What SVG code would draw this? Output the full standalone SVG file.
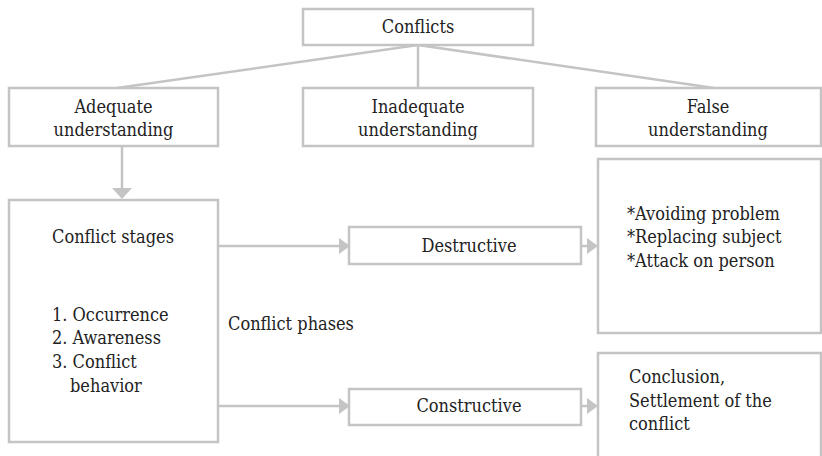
<svg xmlns="http://www.w3.org/2000/svg" width="822" height="456" viewBox="0 0 822 456">
<style>
.box{fill:#fff;stroke:#c4c4c4;stroke-width:2.5}
.ln{fill:none;stroke:#c4c4c4;stroke-width:2.5}
.ah{fill:#c4c4c4;stroke:none}
text{font-family:"DejaVu Serif Condensed","DejaVu Serif","Liberation Serif",serif;font-stretch:condensed;font-size:18px;fill:#222}
.c{text-anchor:middle}
</style>
<rect width="822" height="456" fill="#fff"/>
<g id="connectors">
<line class="ln" x1="418" y1="45" x2="117" y2="88"/>
<line class="ln" x1="418" y1="45" x2="418" y2="88"/>
<line class="ln" x1="418" y1="45" x2="714" y2="88"/>
<line class="ln" x1="122" y1="146" x2="122" y2="189"/>
<polygon class="ah" points="112,188 132,188 122,199"/>
<line class="ln" x1="218" y1="246" x2="340" y2="246"/>
<polygon class="ah" points="339,238 350,246 339,254"/>
<line class="ln" x1="218" y1="406" x2="340" y2="406"/>
<polygon class="ah" points="339,398 350,406 339,414"/>
<line class="ln" x1="581" y1="246" x2="588" y2="246"/>
<polygon class="ah" points="587,238 598,246 587,254"/>
<line class="ln" x1="581" y1="406" x2="588" y2="406"/>
<polygon class="ah" points="587,398 598,406 587,414"/>
</g>
<g id="conflicts">
<rect class="box" x="303" y="9" width="230" height="36"/>
<text class="c" x="418" y="33">Conflicts</text>
</g>
<g id="adequate">
<rect class="box" x="9" y="88" width="209" height="58"/>
<text class="c" x="113.5" y="113">Adequate</text>
<text class="c" x="113.5" y="136">understanding</text>
</g>
<g id="inadequate">
<rect class="box" x="303" y="88" width="230" height="58"/>
<text class="c" x="418" y="113">Inadequate</text>
<text class="c" x="418" y="136">understanding</text>
</g>
<g id="false">
<rect class="box" x="596" y="88" width="225" height="58"/>
<text class="c" x="708" y="113">False</text>
<text class="c" x="708" y="136">understanding</text>
</g>
<g id="stages">
<rect class="box" x="9" y="200" width="209" height="242"/>
<text x="52" y="243">Conflict stages</text>
<text x="52" y="321">1. Occurrence</text>
<text x="52" y="344">2. Awareness</text>
<text x="52" y="368">3. Conflict</text>
<text x="70" y="392">behavior</text>
</g>
<g id="phases-label">
<text x="228" y="330">Conflict phases</text>
</g>
<g id="destructive">
<rect class="box" x="349" y="227" width="232" height="37"/>
<text class="c" x="469" y="252">Destructive</text>
</g>
<g id="constructive">
<rect class="box" x="349" y="389" width="232" height="36"/>
<text class="c" x="469" y="412">Constructive</text>
</g>
<g id="destructive-result">
<rect class="box" x="598" y="159" width="223" height="174"/>
<text x="627" y="220">*Avoiding problem</text>
<text x="627" y="243">*Replacing subject</text>
<text x="627" y="267">*Attack on person</text>
</g>
<g id="constructive-result">
<rect class="box" x="598" y="353" width="223" height="120"/>
<text x="629" y="383">Conclusion,</text>
<text x="629" y="407">Settlement of the</text>
<text x="629" y="430">conflict</text>
</g>
</svg>
